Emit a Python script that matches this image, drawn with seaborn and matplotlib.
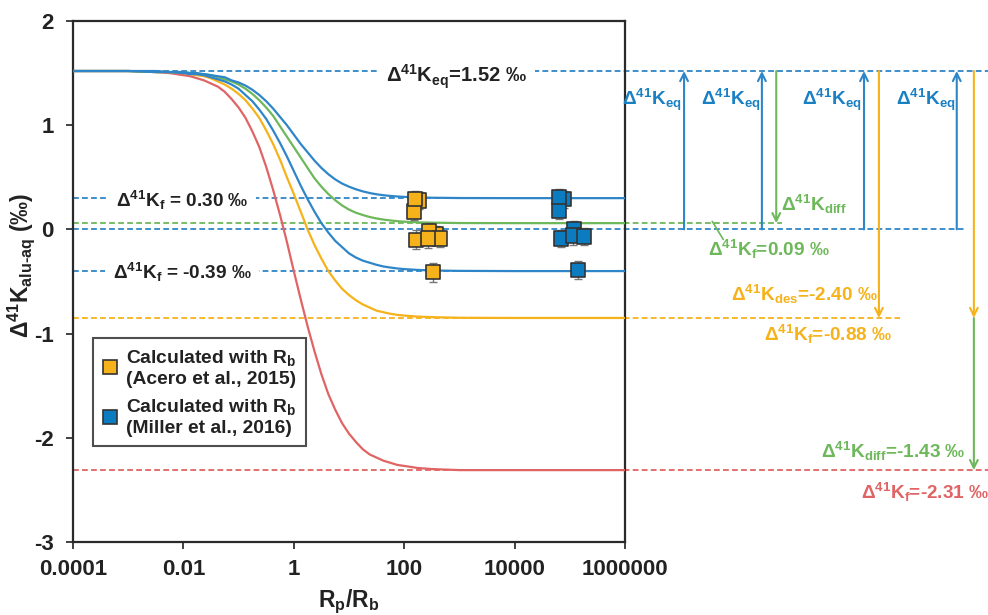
import numpy as np
import pandas as pd
import matplotlib
matplotlib.use("Agg")
import matplotlib.pyplot as plt
from matplotlib.lines import Line2D
from matplotlib.legend_handler import HandlerLine2D
import seaborn as sns

# ---------------- data ----------------
log_ratio = [-4, -3, -2.5, -2.25, -2, -1.875, -1.75, -1.625, -1.5, -1.375, -1.25, -1.125,
             -1, -0.875, -0.75, -0.625, -0.5, -0.375, -0.25, -0.125, 0, 0.125, 0.25, 0.375,
             0.5, 0.625, 0.75, 0.875, 1, 1.125, 1.25, 1.375, 1.5, 1.625, 1.75, 1.875,
             2, 2.25, 2.5, 3, 4, 5, 6]
curve_red = [1.52, 1.52, 1.51, 1.50, 1.48, 1.47, 1.45, 1.43, 1.40, 1.37, 1.32, 1.25,
             1.17, 1.07, 0.94, 0.79, 0.60, 0.38, 0.14, -0.12, -0.40, -0.67, -0.93, -1.17,
             -1.39, -1.58, -1.73, -1.86, -1.96, -2.04, -2.11, -2.16, -2.19, -2.22, -2.24, -2.26,
             -2.27, -2.29, -2.30, -2.31, -2.31, -2.31, -2.31]
curve_yellow = [1.52, 1.52, 1.51, 1.51, 1.50, 1.49, 1.48, 1.47, 1.45, 1.42, 1.39, 1.35,
                1.30, 1.24, 1.16, 1.07, 0.95, 0.82, 0.67, 0.50, 0.34, 0.17, 0.00, -0.15,
                -0.28, -0.40, -0.49, -0.57, -0.63, -0.68, -0.72, -0.75, -0.78, -0.795, -0.81, -0.82,
                -0.827, -0.837, -0.842, -0.848, -0.85, -0.85, -0.85]
curve_green = [1.52, 1.52, 1.51, 1.51, 1.51, 1.50, 1.49, 1.49, 1.48, 1.46, 1.44, 1.42,
               1.39, 1.35, 1.30, 1.24, 1.17, 1.09, 0.99, 0.89, 0.79, 0.69, 0.59, 0.49,
               0.41, 0.34, 0.28, 0.23, 0.19, 0.16, 0.138, 0.119, 0.105, 0.094, 0.086, 0.079,
               0.074, 0.068, 0.065, 0.061, 0.06, 0.06, 0.06]
curve_blue_lo = [1.52, 1.52, 1.51, 1.51, 1.50, 1.49, 1.49, 1.48, 1.46, 1.44, 1.42, 1.39,
                 1.35, 1.29, 1.23, 1.15, 1.06, 0.95, 0.83, 0.70, 0.56, 0.42, 0.29, 0.17,
                 0.06, -0.03, -0.11, -0.17, -0.23, -0.27, -0.30, -0.32, -0.34, -0.356, -0.366, -0.375,
                 -0.381, -0.389, -0.394, -0.398, -0.40, -0.40, -0.40]
curve_blue_hi = [1.52, 1.52, 1.52, 1.51, 1.51, 1.50, 1.50, 1.49, 1.48, 1.47, 1.46, 1.43,
                 1.41, 1.38, 1.34, 1.29, 1.23, 1.16, 1.08, 1.00, 0.91, 0.82, 0.74, 0.66,
                 0.59, 0.53, 0.48, 0.44, 0.41, 0.385, 0.365, 0.349, 0.337, 0.328, 0.321, 0.316,
                 0.312, 0.307, 0.304, 0.301, 0.30, 0.30, 0.30]

acero_x = [377, 281, 164, 446, 270, 185, 151, 157, 333]
acero_y = [-0.05, -0.02, -0.10, -0.09, -0.09, 0.28, 0.17, 0.29, -0.41]
acero_err = [0.08, 0.08, 0.09, 0.08, 0.09, 0.08, 0.08, 0.08, 0.09]

miller_x = [78500, 63700, 63700, 69300, 119000, 114000, 181000, 141000]
miller_y = [0.29, 0.18, 0.31, -0.09, 0.00, -0.06, -0.07, -0.39]
miller_err = [0.08, 0.08, 0.08, 0.08, 0.08, 0.09, 0.08, 0.09]

d_eq, d_f_hi, d_f_green, d_f_lo, d_f_yellow, d_f_red = 1.52, 0.30, 0.06, -0.40, -0.85, -2.31

x_ticks = [1e-4, 1e-2, 1, 1e2, 1e4, 1e6]
x_tick_labels = ["0.0001", "0.01", "1", "100", "10000", "1000000"]
y_ticks = [-3, -2, -1, 0, 1, 2]

# ---------------- colours ----------------
C_BLUE = "#2E86C8"
C_BLUE_MK = "#0C7CC0"
C_BLUE_TX = "#1A80C4"
C_YEL = "#F6B21B"
C_GRN = "#6DB85A"
C_RED = "#E06464"

sns.set_theme(style="ticks")
plt.rcParams["font.family"] = ["Liberation Sans", "DejaVu Sans"]
plt.rcParams["font.weight"] = "bold"
plt.rcParams["mathtext.fontset"] = "custom"
plt.rcParams["mathtext.rm"] = "Liberation Sans:bold"
plt.rcParams["mathtext.it"] = "Liberation Sans:bold"
plt.rcParams["mathtext.bf"] = "Liberation Sans:bold"
plt.rcParams["mathtext.default"] = "rm"

fig = plt.figure(figsize=(9.88, 6.15), dpi=100)
ax = fig.add_axes([73 / 988, 73 / 615, 552 / 988, 521 / 615])

ratio = 10 ** np.array(log_ratio, dtype=float)
curves = {"red": curve_red, "yellow": curve_yellow, "green": curve_green,
          "blue_lo": curve_blue_lo, "blue_hi": curve_blue_hi}
df_curves = pd.concat([pd.DataFrame({"ratio": ratio, "delta": v, "curve": k})
                       for k, v in curves.items()], ignore_index=True)
sns.lineplot(data=df_curves, x="ratio", y="delta", hue="curve",
             palette={"red": C_RED, "yellow": C_YEL, "green": C_GRN,
                      "blue_lo": C_BLUE, "blue_hi": C_BLUE},
             estimator=None, sort=False, legend=False, lw=1.6, ax=ax, zorder=3)

ax.set_xscale("log")
ax.set_xlim(1e-4, 1e6)
ax.set_ylim(-3, 2)

# dashed reference lines (extend outside the axes)
ytr = ax.get_yaxis_transform()
dash = (0, (3.2, 1.8))
for y, x1, col in [(d_eq, 1.66, C_BLUE), (d_f_hi, 1.0, C_BLUE), (0.0, 1.616, C_BLUE),
                   (d_f_green, 1.284, C_GRN), (d_f_lo, 1.0, C_BLUE),
                   (d_f_yellow, 1.498, C_YEL), (d_f_red, 1.66, C_RED)]:
    ax.plot([0, x1], [y, y], transform=ytr, color=col, lw=1.3, ls=dash,
            clip_on=False, zorder=2)

# data points
df_pts = pd.DataFrame({
    "ratio": acero_x + miller_x,
    "delta": acero_y + miller_y,
    "err": acero_err + miller_err,
    "source": ["Acero"] * len(acero_x) + ["Miller"] * len(miller_x)})
ax.errorbar(df_pts["ratio"], df_pts["delta"], yerr=df_pts["err"], fmt="none",
            ecolor="#777777", elinewidth=1.0, capsize=3, capthick=1.0, zorder=4)
sns.scatterplot(data=df_pts, x="ratio", y="delta", hue="source",
                palette={"Acero": C_YEL, "Miller": C_BLUE_MK}, marker="s", s=110,
                edgecolor="#333333", linewidth=1.2, legend=False, ax=ax, zorder=5)

# in-axes labels
box = dict(boxstyle="square,pad=0.4", fc="white", ec="none")
ax.text(900, 1.465, r"$\Delta^{41}$K$_{eq}$=1.52 ‰", ha="center", va="center",
        fontsize=14.5, fontweight="bold", color="#222222", bbox=box, zorder=6)
ax.text(0.0096, 0.28, r"$\Delta^{41}$K$_{f}$ = 0.30 ‰", ha="center", va="center",
        fontsize=13.7, fontweight="bold", color="#222222", bbox=box, zorder=6)
ax.text(0.0096, -0.41, r"$\Delta^{41}$K$_{f}$ = -0.39 ‰", ha="center", va="center",
        fontsize=13.7, fontweight="bold", color="#222222", bbox=box, zorder=6)

# arrows on the right side
def varrow(xf, y0, y1, col):
    ax.annotate("", xy=(xf, y1), xytext=(xf, y0), xycoords=ytr, textcoords=ytr,
                arrowprops=dict(arrowstyle="->", color=col, lw=1.5, shrinkA=0,
                                shrinkB=0, mutation_scale=14),
                annotation_clip=False)

for xf in [1.107, 1.248, 1.433, 1.601]:
    varrow(xf, 0.0, d_eq, C_BLUE)
varrow(1.274, d_eq, d_f_green, C_GRN)
varrow(1.460, d_eq, d_f_yellow, C_YEL)
varrow(1.632, d_eq, d_f_yellow, C_YEL)
varrow(1.632, d_f_yellow, d_f_red, C_GRN)

FS_R = 13.7
kw = dict(transform=ytr, va="center", fontweight="bold", clip_on=False)
for xr in [1.103, 1.245, 1.429, 1.598]:
    ax.text(xr, 1.24, r"$\Delta^{41}$K$_{eq}$", ha="right", fontsize=FS_R,
            color=C_BLUE_TX, **kw)
ax.text(1.283, 0.24, r"$\Delta^{41}$K$_{diff}$", ha="left", fontsize=FS_R, color=C_GRN, **kw)
ax.text(1.150, -0.19, r"$\Delta^{41}$K$_{f}$=0.09 ‰", ha="left", fontsize=FS_R, color=C_GRN, **kw)
ax.plot([1.158, 1.178], [0.077, -0.096], transform=ytr, color=C_GRN, lw=1.2, clip_on=False)
ax.text(1.458, -0.62, r"$\Delta^{41}$K$_{des}$=-2.40 ‰", ha="right", fontsize=FS_R, color=C_YEL, **kw)
ax.text(1.484, -1.01, r"$\Delta^{41}$K$_{f}$=-0.88 ‰", ha="right", fontsize=FS_R, color=C_YEL, **kw)
ax.text(1.616, -2.13, r"$\Delta^{41}$K$_{diff}$=-1.43 ‰", ha="right", fontsize=FS_R, color=C_GRN, **kw)
ax.text(1.427, -2.52, r"$\Delta^{41}$K$_{f}$=-2.31 ‰", ha="left", fontsize=FS_R, color=C_RED, **kw)

# axes styling
ax.set_xticks(x_ticks)
ax.set_xticklabels(x_tick_labels)
ax.xaxis.set_minor_locator(matplotlib.ticker.NullLocator())
ax.set_yticks(y_ticks)
ax.set_yticklabels([str(v) for v in y_ticks])
ax.tick_params(axis="both", which="major", direction="out", length=5, width=1.3,
               color="#333333", labelsize=16, labelcolor="#222222")
ax.tick_params(axis="x", pad=7)
ax.tick_params(axis="y", pad=9)
for sp in ax.spines.values():
    sp.set_visible(True)
    sp.set_linewidth(1.6)
    sp.set_color("#2a2a2a")

ax.set_xlabel(r"R$_{p}$/R$_{b}$", fontsize=16.5, fontweight="bold", color="#222222")
ax.set_ylabel(r"$\Delta^{41}$K$_{\text{alu-aq}}$ (‰)", fontsize=16.5, fontweight="bold",
              color="#222222")
ax.xaxis.set_label_coords(0.5, -0.088)
ax.yaxis.set_label_coords(-0.066, 0.53)

handles = [Line2D([], [], marker="s", ls="none", markersize=9.5, markerfacecolor=C_YEL,
                  markeredgecolor="#333333", markeredgewidth=1.2),
           Line2D([], [], marker="s", ls="none", markersize=9.5, markerfacecolor=C_BLUE_MK,
                  markeredgecolor="#333333", markeredgewidth=1.2)]
leg = ax.legend(handles, ["Calculated with R$_{b}$\n(Acero et al., 2015)",
                          "Calculated with R$_{b}$\n(Miller et al., 2016)"],
                loc="upper left", bbox_to_anchor=(0.036, 0.391), frameon=True,
                fancybox=False, edgecolor="#222222", fontsize=13.9, handlelength=0.8,
                handletextpad=0.4, borderpad=0.5, labelspacing=0.5, borderaxespad=0,
                handler_map={Line2D: HandlerLine2D(ypad=1.15)})
leg.get_frame().set_linewidth(1.5)
for t in leg.get_texts():
    t.set_fontweight("bold")
    t.set_color("#222222")

fig.savefig("out.png", dpi=100)
